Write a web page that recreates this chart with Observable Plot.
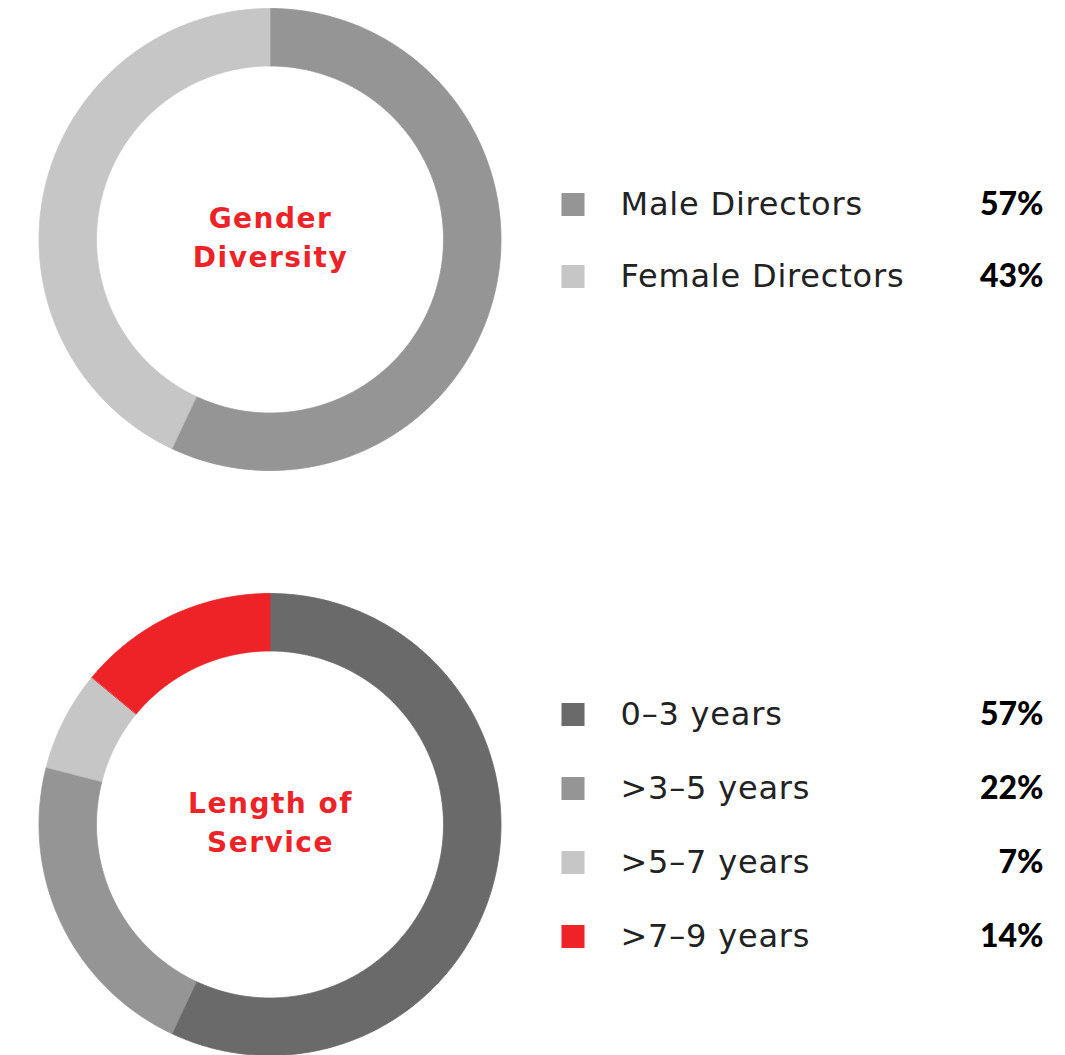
<!DOCTYPE html>
<html>
<head>
<meta charset="utf-8">
<script src="https://cdn.jsdelivr.net/npm/d3@7"></script>
<script src="https://cdn.jsdelivr.net/npm/@observablehq/plot@0.6"></script>
<style>
  html, body { margin: 0; padding: 0; background: #fff; }
  #root { position: relative; width: 1065px; height: 1055px; overflow: hidden; }
  .section { position: absolute; left: 0; width: 1065px; }
  .section svg { position: absolute; top: 0; display: block; }
  .lbl text { letter-spacing: 0.8px; }
  .ttl text { letter-spacing: 1.5px; }
</style>
</head>
<body>
<div id="root"></div>
<script>
// ---- Data ----
const genderTitle = "Gender\nDiversity";
const genderCategories = ["Male Directors", "Female Directors"];
const genderValues = [57, 43];

const serviceTitle = "Length of\nService";
const serviceCategories = ["0–3 years", ">3–5 years", ">5–7 years", ">7–9 years"];
const serviceValues = [57, 22, 7, 14];

// ---- Styles ----
const genderColors = ["#959595", "#c6c6c6"];
const serviceColors = ["#6a6a6a", "#959595", "#c6c6c6", "#ee2328"];
const titleColor = "#ee2328";
const labelFont = "'DejaVu Sans', sans-serif";
const numberFont = "Lato, 'Open Sans', sans-serif";

const innerRatio = 173.5 / 231;

function arcRows(cats, vals) {
  const total = d3.sum(vals);
  let acc = 0;
  const rows = [];
  cats.forEach((c, i) => {
    const a0 = acc / total * 2 * Math.PI;
    const a1 = (acc + vals[i]) / total * 2 * Math.PI;
    acc += vals[i];
    const n = Math.max(2, Math.ceil((a1 - a0) / (Math.PI / 360)));
    for (let k = 0; k <= n; k++) {
      const t = a0 + (a1 - a0) * k / n;
      rows.push({cat: c, x1: Math.sin(t), y1: Math.cos(t), x2: innerRatio * Math.sin(t), y2: innerRatio * Math.cos(t)});
    }
  });
  return rows;
}

function section(top, height, cy, title, cats, vals, colors, spacing) {
  const div = document.createElement("div");
  div.className = "section";
  div.style.top = top + "px";
  div.style.height = height + "px";

  const donut = Plot.plot({
    width: 540, height, margin: 0,
    style: {fontFamily: labelFont, background: "transparent", overflow: "visible"},
    x: {domain: [-1, 1], range: [39, 501], axis: null},
    y: {domain: [-1, 1], range: [cy + 231, cy - 231], axis: null},
    color: {domain: cats, range: colors},
    marks: [
      Plot.area(arcRows(cats, vals), {x1: "x1", y1: "y1", x2: "x2", y2: "y2", fill: "cat", stroke: "cat", strokeWidth: 0.8, curve: "linear"}),
      Plot.text([title], {x: () => 0, y: () => 0, text: d => d, fill: titleColor, fontSize: 28, fontWeight: "bold", lineHeight: 1.39, textAnchor: "middle", lineAnchor: "middle", dy: -5, className: "ttl"})
    ]
  });
  donut.style.left = "0px";

  const n = cats.length;
  const legend = Plot.plot({
    width: 525, height, margin: 0,
    style: {fontFamily: labelFont, background: "transparent", overflow: "visible"},
    y: {type: "band", domain: cats, range: [cy - n * spacing / 2, cy + n * spacing / 2], padding: 0, axis: null},
    color: {domain: cats, range: colors},
    marks: [
      Plot.dot(cats, {y: d => d, frameAnchor: "left", dx: 32.5, symbol: "square", r: 13, fill: d => d}),
      Plot.text(cats, {y: d => d, text: d => d, frameAnchor: "left", dx: 80, textAnchor: "start", lineAnchor: "middle", fontSize: 32, fill: "#222", className: "lbl"}),
      Plot.text(d3.range(n), {y: i => cats[i], text: i => vals[i] + "%", frameAnchor: "right", dx: -22, textAnchor: "end", lineAnchor: "middle", fontSize: 32, fontWeight: "900", fill: "#000", fontFamily: numberFont})
    ]
  });
  legend.style.left = "540px";

  div.appendChild(donut);
  div.appendChild(legend);
  return div;
}

const root = document.getElementById("root");
root.appendChild(section(0, 527, 239.5, genderTitle, genderCategories, genderValues, genderColors, 72));
root.appendChild(section(527, 528, 297.5, serviceTitle, serviceCategories, serviceValues, serviceColors, 74));
</script>
</body>
</html>
